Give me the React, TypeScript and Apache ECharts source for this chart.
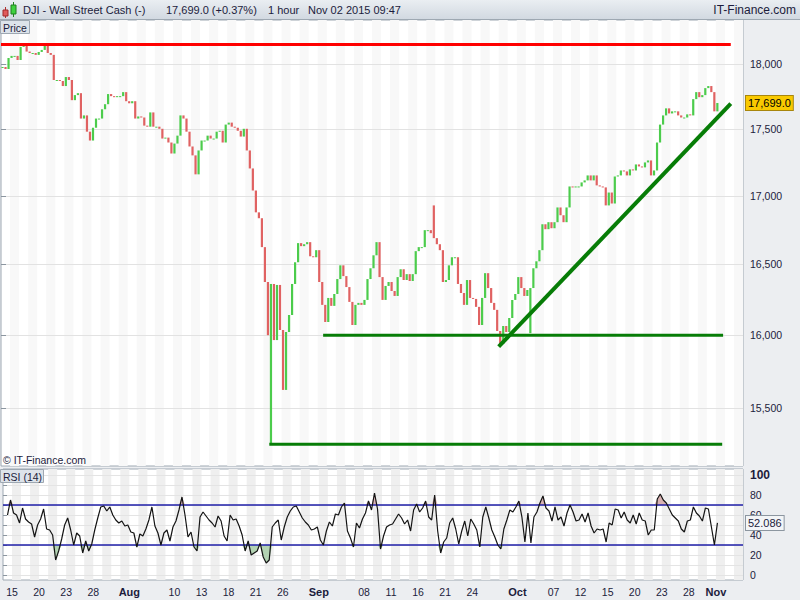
import React, { useEffect, useRef } from 'react';
import * as echarts from 'echarts';

// ---------- data ----------
const barsPerDay = 3;
const totalDays = 82;

// price closes, 3 bars per trading day from Jul 14 2015 to Nov 02 2015
const priceClose = [
  17978, 17963, 18049, 18065, 18065, 18033, 18136, 18152, 18099, 18088,
  18088, 18073, 18096, 18112, 18144, 18088, 18073, 17877, 17877, 17869,
  17830, 17900, 17877, 17721, 17760, 17775, 17580, 17604, 17480, 17413,
  17510, 17580, 17580, 17651, 17690, 17768, 17752, 17744, 17752, 17752,
  17783, 17713, 17697, 17713, 17580, 17596, 17588, 17526, 17518, 17627,
  17518, 17518, 17502, 17428, 17435, 17398, 17315, 17390, 17450, 17604,
  17580, 17480, 17368, 17301, 17159, 17338, 17413, 17413, 17450, 17428,
  17428, 17480, 17487, 17398, 17534, 17549, 17518, 17510, 17487, 17443,
  17502, 17338, 17203, 17039, 16878, 16835, 16625, 16375, 16001, 16361,
  15967, 16354, 16037, 15625, 16023, 16142, 16361, 16516, 16654, 16632,
  16646, 16661, 16559, 16552, 16603, 16375, 16213, 16093, 16262, 16206,
  16290, 16396, 16494, 16417, 16339, 16234, 16072, 16213, 16227, 16213,
  16248, 16396, 16473, 16566, 16661, 16410, 16248, 16347, 16375, 16311,
  16276, 16410, 16466, 16389, 16431, 16382, 16431, 16596, 16625, 16625,
  16748, 16748, 16726, 16690, 16646, 16603, 16375, 16389, 16494, 16552,
  16552, 16361, 16297, 16213, 16389, 16262, 16255, 16199, 16072, 16262,
  16438, 16332, 16227, 16178, 16030, 15940, 16065, 16023, 16121, 16248,
  16290, 16410, 16332, 16276, 16318, 16332, 16473, 16523, 16603, 16791,
  16755, 16806, 16762, 16806, 16914, 16857, 16806, 16914, 17069, 17062,
  17069, 17069, 17099, 17114, 17151, 17114, 17151, 17077, 17069, 17062,
  16929, 17024, 16943, 17143, 17151, 17188, 17181, 17151, 17196, 17188,
  17233, 17218, 17211, 17248, 17263, 17151, 17188, 17398, 17534, 17604,
  17658, 17619, 17635, 17635, 17604, 17588, 17588, 17612, 17604, 17729,
  17783, 17744, 17760, 17814, 17830, 17783, 17635, 17699,
];

// isolated wicks (bar index -> extreme reached)
const spikeBars = [89, 143, 175];
const spikeValues = [15260, 16929, 16015];

const rsiValues = [
  null, 60, 75, 62, 60, 52, 67, 56, 53, 51,
  38, 50, 56, 66, 46, 45, 40, 15, 24, 36,
  50, 57, 45, 30, 42, 39, 22, 34, 24, 31,
  45, 57, 68, 69, 64, 68, 60, 55, 52, 54,
  49, 50, 43, 42, 28, 41, 39, 46, 55, 68,
  49, 42, 30, 42, 45, 34, 48, 54, 65, 78,
  60, 38, 43, 28, 24, 58, 63, 59, 55, 52,
  48, 59, 54, 39, 34, 60, 55, 56, 49, 40,
  24, 34, 20, 22, 24, 32, 18, 12, 15, 48,
  52, 55, 35, 48, 58, 64, 68, 69, 63, 57,
  53, 50, 45, 46, 48, 35, 30, 44, 53, 49,
  61, 60, 68, 72, 44, 37, 28, 52, 47, 56,
  62, 74, 65, 82, 66, 26, 39, 48, 50, 51,
  56, 61, 57, 51, 55, 44, 65, 71, 63, 67,
  74, 58, 55, 80, 44, 22, 33, 37, 52, 57,
  46, 31, 44, 54, 39, 56, 51, 45, 28, 58,
  68, 57, 45, 38, 30, 26, 46, 55, 65, 63,
  68, 74, 58, 33, 62, 32, 58, 63, 72, 79,
  67, 64, 54, 68, 55, 58, 49, 62, 70, 63,
  54, 55, 61, 53, 62, 49, 42, 46, 45, 46,
  33, 52, 50, 66, 65, 57, 63, 55, 52, 60,
  51, 62, 55, 54, 40, 45, 45, 76, 81, 75,
  72, 66, 60, 57, 54, 46, 43, 54, 55, 68,
  62, 59, 54, 67, 66, 48, 30, 52.086,
];

const priceTicks = [15500, 16000, 16500, 17000, 17500, 18000];
const rsiLabelTicks = [0, 20, 40, 60, 80, 100];
const rsiGridTicks = [0, 10, 20, 30, 40, 50, 60, 70, 80, 90, 100];
const tickDays = [1, 4, 7, 10, 14, 19, 22, 25, 28, 31, 35, 40, 43, 46, 49, 52, 57, 61, 64, 67, 70, 73, 76, 79];
const tickLabels = ['15', '20', '23', '28', 'Aug', '10', '13', '18', '21', '26', 'Sep', '08', '11', '16', '21', '24', 'Oct', '07', '12', '15', '20', '23', '28', 'Nov'];
const monthLabels = ['Aug', 'Sep', 'Oct', 'Nov'];

const resistanceLine = [[0, 18155], [80.65, 18155]];
const supportLine = [[35.6, 16000], [79.8, 16000]];
const lowLine = [[29.65, 15260], [79.7, 15260]];
const trendLine = [[55.0, 15921], [80.65, 17695]];

const lastPrice = 17699.0;
const lastRsi = 52.086;
const rsiUpper = 70;
const rsiLower = 30;

// ---------- styles ----------
const FONT = '"Liberation Sans", Arial, sans-serif';
const TXT = '#1c1c3c';
const UP = '#4ccc4c';
const DOWN = '#e06262';
const CLEAR = 'rgba(0,0,0,0)';

export default function App() {
  const ref = useRef<HTMLDivElement>(null);

  useEffect(() => {
    document.body.style.margin = '0';
    if (!ref.current) return;
    const chart = echarts.init(ref.current, null, { renderer: 'svg' });

    const xs = priceClose.map((_, i) => (i + 0.5) / barsPerDay);
    const priceBars = priceClose.map((c, i) => {
      const o = i > 0 ? priceClose[i - 1] : c;
      const k = spikeBars.indexOf(i);
      const extra = k >= 0 ? [spikeValues[k]] : [];
      const lo = Math.min(o, c, ...extra);
      const hi = Math.max(o, c, ...extra);
      return [xs[i], lo, hi, c >= o ? 1 : 0];
    });
    const rsiLine = rsiValues.map((v, i) => [xs[i], v]);
    const rsiHigh = rsiValues.map((v, i) => [xs[i], v == null ? null : Math.max(v, rsiUpper)]);
    const rsiLow = rsiValues.map((v, i) => [xs[i], v == null ? null : Math.min(v, rsiLower)]);
    const rsiUpperLine = [[0, rsiUpper], [totalDays, rsiUpper]];
    const rsiLowerLine = [[0, rsiLower], [totalDays, rsiLower]];

    const fmtThousands = (v: number) => Math.round(v).toString().replace(/\B(?=(\d{3})+(?!\d))/g, ',');

    const stripeAxis = (gridIndex: number, color: string, labels: boolean) => ({
      type: 'value',
      gridIndex,
      min: 0,
      max: totalDays,
      interval: 1,
      axisLine: { show: false },
      axisTick: { show: false },
      splitLine: { show: false },
      splitArea: { show: true, areaStyle: { color: ['rgba(255,255,255,0)', color] } },
      axisLabel: labels
        ? {
            show: true,
            margin: 6,
            color: TXT,
            fontSize: 10.5,
            fontFamily: FONT,
            formatter: (v: number) => {
              const k = tickDays.indexOf(Math.round(v));
              if (k < 0) return '';
              const t = tickLabels[k];
              return monthLabels.indexOf(t) >= 0 ? '{m|' + t + '}' : t;
            },
            rich: { m: { fontWeight: 'bold', fontSize: 11, color: TXT, fontFamily: FONT } },
          }
        : { show: false },
      z: 0,
    });

    const lineSeries = (xi: number, data: any[], color: string, width: number, z: number) => ({
      type: 'line',
      xAxisIndex: xi,
      yAxisIndex: xi,
      data,
      showSymbol: false,
      symbol: 'none',
      silent: true,
      lineStyle: { color, width, cap: 'butt' },
      z,
    });

    const boxLabel = (text: string, bg: string, border: string) => ({
      show: true,
      position: 'end',
      distance: 3,
      formatter: text,
      color: '#000',
      fontSize: 11,
      fontFamily: FONT,
      backgroundColor: bg,
      borderColor: border,
      borderWidth: 1,
      padding: [2, 2, 1, 2],
    });

    const option: any = {
      animation: false,
      backgroundColor: '#eceef1',
      textStyle: { fontFamily: FONT },
      grid: [
        { left: 1, right: 57, top: 20, height: 446, show: true, backgroundColor: '#ffffff', borderColor: '#9ea8b2', borderWidth: 1 },
        { left: 1, right: 57, top: 469, height: 111, show: true, backgroundColor: '#ffffff', borderColor: '#9ea8b2', borderWidth: 1 },
      ],
      xAxis: [stripeAxis(0, '#f8f8f8', false), stripeAxis(1, '#efefef', true)],
      yAxis: [
        {
          type: 'log',
          logBase: 10,
          gridIndex: 0,
          position: 'right',
          min: 15117,
          max: 18349,
          axisLine: { show: false },
          axisTick: { show: true, length: 5, lineStyle: { color: '#8c96a0' }, customValues: priceTicks },
          axisLabel: {
            customValues: priceTicks,
            margin: 7,
            color: TXT,
            fontSize: 10.5,
            fontFamily: FONT,
            formatter: (v: number) => fmtThousands(v),
          },
          splitLine: { show: true, lineStyle: { color: '#e2e2e2', width: 1 } },
          z: 1,
        },
        {
          type: 'value',
          gridIndex: 1,
          position: 'right',
          min: -5,
          max: 106,
          axisLine: { show: false },
          axisTick: { show: true, length: 4, lineStyle: { color: '#8c96a0' }, customValues: rsiGridTicks },
          axisLabel: {
            customValues: rsiLabelTicks,
            margin: 7,
            color: TXT,
            fontSize: 10.5,
            fontFamily: FONT,
            formatter: (v: number) => (v === 100 ? '{b|100}' : String(v)),
            rich: { b: { fontWeight: 'bold', fontSize: 12, color: TXT, fontFamily: FONT } },
          },
          splitLine: { show: true, lineStyle: { color: '#e4e4e4', width: 1 } },
          z: 1,
        },
      ],
      series: [
        {
          type: 'custom',
          name: 'price',
          xAxisIndex: 0,
          yAxisIndex: 0,
          z: 4,
          encode: { x: 0, y: [1, 2] },
          data: priceBars,
          renderItem: (params: any, api: any) => {
            const x = api.value(0);
            const top = api.coord([x, api.value(2)]);
            const bot = api.coord([x, api.value(1)]);
            return {
              type: 'rect',
              shape: { x: top[0] - 1.1, y: top[1], width: 2.2, height: Math.max(1, bot[1] - top[1]) },
              style: { fill: api.value(3) ? UP : DOWN },
            };
          },
        },
        {
          ...lineSeries(0, resistanceLine, '#ff0000', 3, 6),
          markLine: {
            silent: true,
            symbol: 'none',
            lineStyle: { color: CLEAR, width: 0 },
            data: [{ yAxis: lastPrice, label: boxLabel('17,699.0', '#f9c900', '#a8860c') }],
          },
        },
        lineSeries(0, supportLine, '#077d07', 3, 6),
        lineSeries(0, lowLine, '#077d07', 3, 6),
        lineSeries(0, trendLine, '#077d07', 4, 6),
        {
          type: 'line',
          xAxisIndex: 1,
          yAxisIndex: 1,
          data: rsiHigh,
          showSymbol: false,
          symbol: 'none',
          lineStyle: { width: 0, color: CLEAR },
          areaStyle: { origin: rsiUpper, color: '#d9b3b3', opacity: 1 },
          z: 3,
          silent: true,
        },
        {
          type: 'line',
          xAxisIndex: 1,
          yAxisIndex: 1,
          data: rsiLow,
          showSymbol: false,
          symbol: 'none',
          lineStyle: { width: 0, color: CLEAR },
          areaStyle: { origin: rsiLower, color: '#b3d3b3', opacity: 1 },
          z: 3,
          silent: true,
        },
        lineSeries(1, rsiUpperLine, '#1f1fa8', 1.3, 4),
        lineSeries(1, rsiLowerLine, '#1f1fa8', 1.3, 4),
        {
          type: 'line',
          name: 'RSI',
          xAxisIndex: 1,
          yAxisIndex: 1,
          data: rsiLine,
          showSymbol: false,
          symbol: 'none',
          lineStyle: { color: '#141414', width: 1.2 },
          z: 5,
          markLine: {
            silent: true,
            symbol: 'none',
            lineStyle: { color: CLEAR, width: 0 },
            data: [{ yAxis: lastRsi, label: { ...boxLabel('52.086', '#f3f5f7', '#8c96a0'), color: TXT } }],
          },
        },
      ],
      graphic: [
        {
          type: 'rect',
          z: 100,
          shape: { x: 0, y: 0, width: 800, height: 19 },
          style: {
            fill: new echarts.graphic.LinearGradient(0, 0, 0, 1, [
              { offset: 0, color: '#eaeef2' },
              { offset: 1, color: '#d2d9e1' },
            ]),
          },
        },
        { type: 'line', z: 101, shape: { x1: 0, y1: 19.5, x2: 800, y2: 19.5 }, style: { stroke: '#9ea8b2', lineWidth: 1 } },
        // candle icon
        { type: 'line', z: 101, shape: { x1: 5.5, y1: 7, x2: 5.5, y2: 18 }, style: { stroke: '#b03030', lineWidth: 1 } },
        { type: 'rect', z: 102, shape: { x: 3, y: 10, width: 5, height: 6 }, style: { fill: '#e05a5a', stroke: '#a02828', lineWidth: 1 } },
        { type: 'line', z: 101, shape: { x1: 13.5, y1: 2, x2: 13.5, y2: 17 }, style: { stroke: '#208020', lineWidth: 1 } },
        { type: 'rect', z: 102, shape: { x: 11, y: 5, width: 5, height: 9 }, style: { fill: '#3fd23f', stroke: '#1f7f1f', lineWidth: 1 } },
        { type: 'text', z: 103, x: 23, y: 10, style: { text: 'DJI - Wall Street Cash (-)', fill: TXT, font: '11px ' + FONT, textVerticalAlign: 'middle' } },
        { type: 'text', z: 103, x: 166, y: 10, style: { text: '17,699.0 (+0.37%)', fill: TXT, font: '11px ' + FONT, textVerticalAlign: 'middle' } },
        { type: 'text', z: 103, x: 268, y: 10, style: { text: '1 hour', fill: TXT, font: '11px ' + FONT, textVerticalAlign: 'middle' } },
        { type: 'text', z: 103, x: 308, y: 10, style: { text: 'Nov 02 2015 09:47', fill: TXT, font: '11px ' + FONT, textVerticalAlign: 'middle' } },
        { type: 'text', z: 103, x: 796, y: 10, style: { text: 'IT-Finance.com', fill: TXT, font: '12px ' + FONT, textAlign: 'right', textVerticalAlign: 'middle' } },
        // panel labels
        { type: 'rect', z: 100, shape: { x: 0.5, y: 20.5, width: 29, height: 13 }, style: { fill: '#dde3ea', stroke: '#9ea8b2', lineWidth: 1 } },
        { type: 'text', z: 101, x: 3, y: 27.5, style: { text: 'Price', fill: TXT, font: '10.5px ' + FONT, textVerticalAlign: 'middle' } },
        { type: 'rect', z: 100, shape: { x: 0.5, y: 469.5, width: 43, height: 13 }, style: { fill: '#dde3ea', stroke: '#9ea8b2', lineWidth: 1 } },
        { type: 'text', z: 101, x: 3, y: 476.5, style: { text: 'RSI (14)', fill: TXT, font: '10.5px ' + FONT, textVerticalAlign: 'middle' } },
        { type: 'text', z: 101, x: 3, y: 460, style: { text: '© IT-Finance.com', fill: TXT, font: '10.5px ' + FONT, textVerticalAlign: 'middle' } },
      ],
    };

    chart.setOption(option);
    return () => chart.dispose();
  }, []);

  return <div ref={ref} style={{ width: 800, height: 600 }} />;
}
